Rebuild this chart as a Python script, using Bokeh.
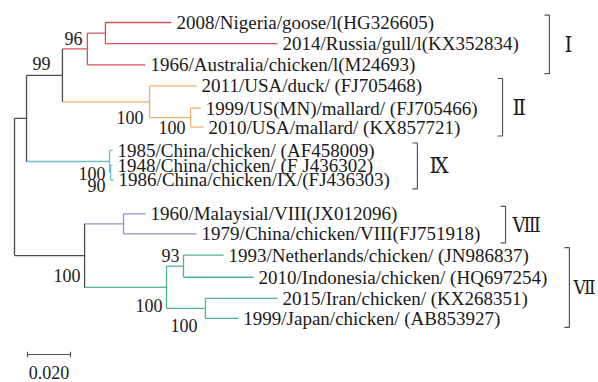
from bokeh.plotting import figure
from bokeh.models import Range1d, ColumnDataSource
from bokeh.core.properties import value
from bokeh.embed import file_html
from bokeh.resources import INLINE

# ---------------- data ----------------
leaf_names = [
    "2008/Nigeria/goose/l(HG326605)",
    "2014/Russia/gull/l(KX352834)",
    "1966/Australia/chicken/l(M24693)",
    "2011/USA/duck/ (FJ705468)",
    "1999/US(MN)/mallard/ (FJ705466)",
    "2010/USA/mallard/ (KX857721)",
    "1985/China/chicken/ (AF458009)",
    "1948/China/chicken/ (F J436302)",
    "1986/China/chicken/IX/(FJ436303)",
    "1960/Malaysial/VIII(JX012096)",
    "1979/China/chicken/VIII(FJ751918)",
    "1993/Netherlands/chicken/ (JN986837)",
    "2010/Indonesia/chicken/ (HQ697254)",
    "2015/Iran/chicken/ (KX268351)",
    "1999/Japan/chicken/ (AB853927)",
]
leaf_parent = [4, 4, 3, 5, 6, 6, 7, 8, 8, 10, 10, 12, 12, 13, 13]
leaf_length = [0.0307, 0.0800, 0.0270, 0.0219, 0.0047, 0.0060, 0.0014, 0.0009,
               0.0014, 0.0102, 0.0340, 0.0186, 0.0326, 0.0335, 0.0153]
leaf_rows = [0, 1, 2, 3, 4.05, 4.95, 6.05, 6.75, 7.45, 9.05, 10, 11, 12.05, 13.05, 14]

node_parent = [-1, 0, 1, 2, 3, 2, 5, 1, 7, 0, 9, 9, 11, 11]
node_length = [0.0, 0.0056, 0.0167, 0.0116, 0.0084, 0.0405, 0.0191, 0.0386,
               0.0005, 0.0326, 0.0181, 0.0381, 0.0079, 0.0181]
node_support = ["", "", "99", "96", "", "100", "100", "100", "90", "100", "", "100", "93", "100"]

clade_names = ["Ⅰ", "Ⅱ", "Ⅸ", "Ⅷ", "Ⅶ"]
clade_root = [3, 5, 7, 10, 11]
clade_first_leaf = [0, 3, 6, 9, 11]
clade_last_leaf = [2, 5, 8, 10, 14]
clade_bracket_x = [0.2488, 0.2270, 0.1874, 0.2284, 0.2581]

scale_length = 0.020
scale_label = "0.020"

# ---------------- style ----------------
GRAY = "#4d4d4d"
clade_colors = ["#d6505a", "#f0ad72", "#6fbfd0", "#9c8fc4", "#4fb493"]
TEXT = "#1a1a1a"
PX = 0.02 / 43.0       # data units per pixel horizontally
ROW = 21.14            # pixels per row
W, H = 598, 382
support_offset = {2: (-12, -12), 3: (-5, -10), 5: (-6, 16), 6: (-5, 10),
                  7: (-4, 12), 8: (-5, 12.5), 9: (-4, 20), 11: (-4, 18),
                  12: (-4, -11), 13: (-8, 17)}
label_offset = [15, 10, 12, 7, 4]
label_size = ["22px", "22px", "22px", "20px", "19px"]

# ---------------- layout ----------------
n = len(node_parent)
node_x = [0.0] * n
for i in range(1, n):
    node_x[i] = node_x[node_parent[i]] + node_length[i]
leaf_x = [node_x[p] + l for p, l in zip(leaf_parent, leaf_length)]

children_y = [[] for _ in range(n)]
for j, p in enumerate(leaf_parent):
    children_y[p].append(leaf_rows[j])
node_y = [0.0] * n
for i in range(n - 1, -1, -1):
    ys = children_y[i]
    node_y[i] = (min(ys) + max(ys)) / 2.0
    if node_parent[i] >= 0:
        children_y[node_parent[i]].append(node_y[i])

node_color = [GRAY] * n
for i in range(n):
    p = node_parent[i]
    if i in clade_root:
        node_color[i] = clade_colors[clade_root.index(i)]
    elif p >= 0:
        node_color[i] = node_color[p]

xs, ys, cs = [], [], []
for i in range(1, n):
    p = node_parent[i]
    xs.append([node_x[p], node_x[i]]); ys.append([node_y[i], node_y[i]]); cs.append(node_color[i])
for i in range(n):
    cy = children_y[i]
    xs.append([node_x[i], node_x[i]]); ys.append([min(cy), max(cy)]); cs.append(node_color[i])
for j, p in enumerate(leaf_parent):
    xs.append([node_x[p], leaf_x[j]]); ys.append([leaf_rows[j], leaf_rows[j]]); cs.append(node_color[p])

x0 = -14 * PX
p = figure(width=W, height=H, output_backend="svg", toolbar_location=None,
           x_range=Range1d(x0, x0 + W * PX),
           y_range=Range1d((H - 22) / ROW, (0 - 22) / ROW),
           x_axis_location=None, y_axis_location=None, min_border=0)
p.grid.visible = False
p.outline_line_color = None
p.background_fill_color = "white"
p.border_fill_color = "white"

p.multi_line(xs=xs, ys=ys, line_color=cs, line_width=1.3)

# leaf labels
p.text(x=leaf_x, y=leaf_rows, text=leaf_names, x_offset=5, text_align="left",
       text_baseline="middle", text_font=value("Liberation Serif"),
       text_font_size="19px", text_color=TEXT)

# support values
sx, sy, st, sox, soy = [], [], [], [], []
for i, s in enumerate(node_support):
    if s:
        sx.append(node_x[i]); sy.append(node_y[i]); st.append(s)
        sox.append(support_offset[i][0]); soy.append(support_offset[i][1])
src = ColumnDataSource(dict(x=sx, y=sy, t=st, ox=sox, oy=soy))
p.text(x="x", y="y", text="t", x_offset="ox", y_offset="oy", source=src,
       text_align="right", text_baseline="middle", text_font=value("Liberation Serif"),
       text_font_size="18px", text_color=TEXT)

# clade brackets
tick = 5 * PX
bxs, bys, lx, ly = [], [], [], []
for k in range(len(clade_names)):
    top = leaf_rows[clade_first_leaf[k]] - 0.35
    bot = leaf_rows[clade_last_leaf[k]] + 0.42
    bx = clade_bracket_x[k]
    bxs.append([bx - tick, bx, bx, bx - tick]); bys.append([top, top, bot, bot])
    lx.append(bx); ly.append((top + bot) / 2)
p.multi_line(xs=bxs, ys=bys, line_color="#555555", line_width=1.2)
csrc = ColumnDataSource(dict(x=lx, y=ly, t=clade_names, ox=label_offset, fs=label_size))
p.text(x="x", y="y", text="t", x_offset="ox", text_font_size="fs", source=csrc,
       text_align="left", text_baseline="middle",
       text_font=value("DejaVu Serif Condensed, DejaVu Serif"), text_color=TEXT)

# scale bar
sb_x = 13 * PX
sb_y = (354 - 22) / ROW
p.multi_line(xs=[[sb_x, sb_x + scale_length], [sb_x, sb_x], [sb_x + scale_length, sb_x + scale_length]],
             ys=[[sb_y, sb_y], [sb_y - 0.13, sb_y + 0.13], [sb_y - 0.13, sb_y + 0.13]],
             line_color="#555555", line_width=1.2)
p.text(x=[sb_x + scale_length / 2], y=[(372 - 22) / ROW], text=[scale_label],
       text_align="center", text_baseline="middle", text_font=value("Liberation Serif"),
       text_font_size="18px", text_color=TEXT)

open("out.html", "w").write(file_html(p, INLINE))
